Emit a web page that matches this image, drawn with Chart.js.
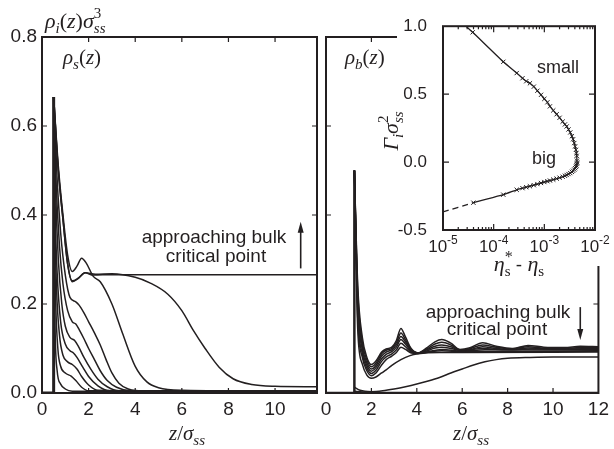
<!DOCTYPE html>
<html>
<head>
<meta charset="utf-8">
<script src="https://cdn.jsdelivr.net/npm/chart.js@4.4.1/dist/chart.umd.min.js"></script>
<style>
html,body{margin:0;padding:0;background:#fff;}
#lienzo{position:relative;width:614px;height:449px;}
canvas{position:absolute;left:0;top:0;}
</style>
</head>
<body>
<div id="lienzo">
<canvas id="panel-s" width="614" height="449"></canvas>
<canvas id="panel-b" width="614" height="449"></canvas>
<canvas id="recuadro" width="614" height="449"></canvas>
</div>
<script>
// perfiles de densidad, pares [z/sigma_ss, rho*sigma^3]
var paredS = [[0,0],[0.5,0],[0.5,0.665]];
var rsA = [[0.5,0.665],[0.7,0.5],[0.9,0.39],[1.1,0.29],[1.3,0.25],[1.55,0.257],[1.85,0.27],[2.2,0.265],[3,0.266],[5,0.266],[8,0.266],[11.8,0.266]];
var rsB = [[0.5,0.665],[0.7,0.51],[0.9,0.4],[1.1,0.31],[1.3,0.273],[1.5,0.285],[1.7,0.303],[1.9,0.292],[2.2,0.262],[2.5,0.25],[3,0.2],[3.45,0.135],[4,0.06],[4.5,0.025],[5,0.012],[6,0.006],[8,0.005],[11.8,0.005]];
var rsC = [[0.5,0.665],[0.7,0.5],[0.9,0.39],[1.1,0.29],[1.3,0.252],[1.55,0.258],[1.85,0.27],[2.3,0.267],[3,0.268],[4,0.26],[4.65,0.247],[5.4,0.222],[6,0.185],[6.5,0.14],[7,0.1],[7.6,0.058],[8.2,0.032],[9,0.019],[10,0.015],[11.8,0.014]];
var rsD = [[0.5,0.665],[0.65,0.48],[0.8,0.36],[1.0,0.265],[1.2,0.215],[1.45,0.205],[1.6,0.197],[1.8,0.18],[2.0,0.16],[2.25,0.135],[2.5,0.108],[2.75,0.075],[3.0,0.045],[3.3,0.022],[3.7,0.009],[4.5,0.004],[11.8,0.003]];
var rsE = [[0.5,0.665],[0.6,0.48],[0.75,0.33],[0.9,0.245],[1.1,0.185],[1.3,0.16],[1.45,0.155],[1.6,0.142],[1.8,0.122],[2.0,0.1],[2.25,0.075],[2.5,0.05],[2.8,0.028],[3.2,0.013],[3.8,0.005],[11.8,0.003]];
var rsF = [[0.5,0.665],[0.58,0.46],[0.7,0.3],[0.85,0.2],[1.0,0.15],[1.2,0.125],[1.4,0.118],[1.55,0.106],[1.8,0.08],[2.1,0.053],[2.4,0.031],[2.8,0.014],[3.3,0.005],[11.8,0.003]];
var rsG = [[0.5,0.665],[0.56,0.42],[0.65,0.27],[0.8,0.16],[1.0,0.11],[1.2,0.095],[1.35,0.09],[1.5,0.08],[1.75,0.058],[2.0,0.037],[2.4,0.016],[2.9,0.005],[11.8,0.003]];
var rsH = [[0.5,0.665],[0.55,0.4],[0.62,0.24],[0.75,0.13],[0.9,0.085],[1.1,0.07],[1.3,0.064],[1.5,0.054],[1.7,0.037],[2.0,0.018],[2.4,0.006],[11.8,0.003]];
var rsI = [[0.5,0.665],[0.53,0.4],[0.58,0.22],[0.68,0.1],[0.8,0.06],[1.0,0.045],[1.25,0.038],[1.45,0.028],[1.7,0.013],[2.0,0.005],[11.8,0.003]];
var rsJ = [[0.5,0.665],[0.52,0.35],[0.56,0.15],[0.65,0.05],[0.8,0.02],[1.0,0.009],[1.3,0.004],[11.8,0.003]];

var paredB = [[0,0],[1.25,0],[1.25,0.5]];
var rb1 = [[1.25,0.5],[1.4,0.24],[1.6,0.125],[1.8,0.08],[2.0,0.064],[2.2,0.072],[2.45,0.092],[2.65,0.099],[2.9,0.103],[3.1,0.118],[3.3,0.145],[3.5,0.126],[3.75,0.1],[4.05,0.09],[4.4,0.1],[4.8,0.115],[5.1,0.12],[5.5,0.112],[5.9,0.098],[6.3,0.101],[6.9,0.113],[7.5,0.105],[8.2,0.1],[8.9,0.107],[9.6,0.103],[10.5,0.102],[11.2,0.105],[12,0.104]];
var rb2 = [[1.25,0.5],[1.4,0.225],[1.6,0.115],[1.8,0.074],[2.0,0.059],[2.2,0.067],[2.45,0.088],[2.65,0.096],[2.9,0.1],[3.1,0.113],[3.3,0.135],[3.5,0.12],[3.75,0.098],[4.05,0.09],[4.4,0.098],[4.8,0.11],[5.1,0.114],[5.5,0.108],[5.9,0.097],[6.3,0.099],[6.9,0.108],[7.5,0.103],[8.2,0.099],[8.9,0.104],[9.6,0.101],[10.5,0.1],[11.2,0.102],[12,0.102]];
var rb3 = [[1.25,0.5],[1.4,0.21],[1.6,0.105],[1.8,0.068],[2.0,0.054],[2.2,0.062],[2.45,0.083],[2.65,0.092],[2.9,0.097],[3.1,0.108],[3.3,0.127],[3.5,0.115],[3.75,0.096],[4.05,0.09],[4.4,0.096],[4.8,0.105],[5.1,0.108],[5.5,0.104],[5.9,0.096],[6.3,0.097],[6.9,0.104],[7.5,0.1],[8.2,0.098],[8.9,0.101],[10,0.099],[12,0.1]];
var rb4 = [[1.25,0.5],[1.4,0.195],[1.6,0.097],[1.8,0.062],[2.0,0.049],[2.2,0.057],[2.45,0.077],[2.65,0.087],[2.9,0.093],[3.1,0.103],[3.3,0.12],[3.5,0.11],[3.75,0.094],[4.05,0.09],[4.4,0.094],[4.8,0.101],[5.1,0.103],[5.5,0.1],[6,0.095],[6.9,0.1],[8,0.097],[9,0.099],[12,0.098]];
var rb5 = [[1.25,0.5],[1.4,0.18],[1.6,0.088],[1.8,0.056],[2.0,0.044],[2.2,0.051],[2.45,0.071],[2.65,0.081],[2.9,0.088],[3.1,0.097],[3.3,0.112],[3.5,0.104],[3.75,0.092],[4.05,0.089],[4.4,0.092],[5.1,0.098],[6,0.094],[7,0.097],[12,0.096]];
var rb6 = [[1.25,0.5],[1.4,0.165],[1.6,0.08],[1.8,0.05],[2.0,0.039],[2.2,0.045],[2.45,0.063],[2.65,0.075],[2.9,0.083],[3.1,0.091],[3.3,0.103],[3.5,0.098],[3.75,0.09],[4.05,0.089],[4.4,0.091],[5.1,0.095],[6,0.093],[12,0.094]];
var rb7 = [[1.25,0.5],[1.4,0.14],[1.6,0.065],[1.8,0.04],[2.0,0.033],[2.2,0.036],[2.45,0.045],[2.65,0.052],[2.9,0.062],[3.3,0.075],[3.7,0.084],[4.05,0.088],[5,0.091],[6,0.091],[12,0.092]];
var rbV = [[1.25,0.013],[1.5,0.006],[2.0,0.003],[2.5,0.005],[3.0,0.009],[3.5,0.014],[4.0,0.02],[4.5,0.027],[5.0,0.035],[5.5,0.045],[6.0,0.054],[6.5,0.063],[7.0,0.07],[7.5,0.075],[8.0,0.078],[9.0,0.08],[10,0.081],[12,0.081]];
var rbW = [[1.25,0.004],[2,0.001],[12,0.001]];

// recuadro: adsorcion frente a eta*_s - eta_s
var etaPeq = [2.85e-5,3.86e-5,1.55e-4,2.85e-4,3.7e-4,4.4e-4,5.2e-4,6.2e-4,7.3e-4,8.6e-4,1.0e-3,1.15e-3,1.29e-3,1.5e-3,1.75e-3,2.0e-3,2.3e-3,2.55e-3,2.76e-3,3.0e-3,3.25e-3,3.5e-3,3.7e-3,3.9e-3,4.05e-3,4.2e-3,4.3e-3,4.35e-3,4.4e-3];
var gamPeq = [1.0,0.955,0.738,0.655,0.617,0.595,0.58,0.555,0.525,0.495,0.465,0.44,0.41,0.38,0.352,0.326,0.298,0.277,0.262,0.24,0.218,0.19,0.168,0.14,0.115,0.09,0.065,0.046,0.01];
var etaGde = [1e-5,3.98e-5,1.55e-4,2.85e-4,3.7e-4,4.4e-4,5.2e-4,6.2e-4,7.3e-4,8.6e-4,1.0e-3,1.15e-3,1.29e-3,1.5e-3,1.75e-3,2.0e-3,2.3e-3,2.55e-3,2.76e-3,3.0e-3,3.25e-3,3.5e-3,3.7e-3,3.9e-3,4.05e-3,4.2e-3,4.3e-3,4.4e-3,4.45e-3];
var gamGde = [-0.367,-0.299,-0.24,-0.204,-0.192,-0.185,-0.178,-0.17,-0.162,-0.154,-0.147,-0.141,-0.136,-0.129,-0.122,-0.115,-0.108,-0.101,-0.095,-0.088,-0.081,-0.072,-0.064,-0.055,-0.045,-0.035,-0.025,-0.012,-0.003];

var ticksZs = [0,2,4,6,8,10];
var ticksZb = [0,2,4,6,8,10,12];
var ticksRho = [0,0.2,0.4,0.6,0.8];
var ticksGam = [-0.5,0,0.5,1];
var decadas = [1e-5,1e-4,1e-3,1e-2];

var tinta = '#231f20';
var sans = '"Liberation Sans", Arial, Helvetica, sans-serif';
var serif = '"Liberation Serif", "Times New Roman", serif';
var it = function(n){ return 'italic ' + n + 'px ' + serif; };
var rm = function(n){ return n + 'px ' + serif; };

function curva(datos, extra) {
  var d = {data: datos, borderColor: tinta, borderWidth: 1.5, pointRadius: 0, fill: false,
           cubicInterpolationMode: 'monotone'};
  for (var k in extra) d[k] = extra[k];
  return d;
}
function pareja(xs, ys) { return xs.map(function(x, i){ return [x, ys[i]]; }); }

// texto con sub/superindices: partes = [texto, fuente, dy, avanza]
function pinta(ctx, x, y, partes, alin) {
  var total = 0;
  partes.forEach(function(p){ ctx.font = p[1]; if (p[3] !== false) total += ctx.measureText(p[0]).width; });
  var cx = alin === 'center' ? x - total / 2 : x;
  partes.forEach(function(p){
    ctx.font = p[1];
    ctx.fillText(p[0], cx, y + (p[2] || 0));
    if (p[3] !== false) cx += ctx.measureText(p[0]).width;
  });
}

var marco = {
  id: 'marco',
  afterDraw: function(chart) {
    var o = chart.options.plugins.marco; if (!o) return;
    var ctx = chart.ctx, a = chart.chartArea, sx = chart.scales.x, sy = chart.scales.y;
    ctx.save();
    ctx.strokeStyle = tinta;
    ctx.lineWidth = 1.2;
    ctx.beginPath();
    (o.xt || []).forEach(function(v){
      var p = sx.getPixelForValue(v);
      ctx.moveTo(p, a.bottom); ctx.lineTo(p, a.bottom - o.largo);
      ctx.moveTo(p, a.top); ctx.lineTo(p, a.top + o.largo);
    });
    (o.xm || []).forEach(function(v){
      var p = sx.getPixelForValue(v);
      ctx.moveTo(p, a.bottom); ctx.lineTo(p, a.bottom - o.largo / 2);
      ctx.moveTo(p, a.top); ctx.lineTo(p, a.top + o.largo / 2);
    });
    (o.yt || []).forEach(function(v){
      var p = sy.getPixelForValue(v);
      ctx.moveTo(a.left, p); ctx.lineTo(a.left + o.largo, p);
      ctx.moveTo(a.right, p); ctx.lineTo(a.right - o.largo, p);
    });
    ctx.stroke();
    ctx.lineWidth = 2;
    ctx.strokeRect(a.left, a.top, a.right - a.left, a.bottom - a.top);
    ctx.restore();
  }
};

var textos = {
  id: 'textos',
  afterDraw: function(chart) {
    var o = chart.options.plugins.textos; if (!o) return;
    var ctx = chart.ctx;
    ctx.save();
    ctx.fillStyle = tinta; ctx.strokeStyle = tinta;
    ctx.textBaseline = 'alphabetic'; ctx.textAlign = 'left';
    (o.items || []).forEach(function(t){
      if (t.rot) {
        ctx.save(); ctx.translate(t.x, t.y); ctx.rotate(-Math.PI / 2);
        pinta(ctx, 0, 0, t.partes, t.alin); ctx.restore();
      } else pinta(ctx, t.x, t.y, t.partes, t.alin);
    });
    (o.flechas || []).forEach(function(f){
      var px = chart.scales.x.getPixelForValue(f.x);
      var y0 = chart.scales.y.getPixelForValue(f.y0), y1 = chart.scales.y.getPixelForValue(f.y1);
      var s = y1 < y0 ? 1 : -1;
      ctx.lineWidth = 1.6;
      ctx.beginPath(); ctx.moveTo(px, y0); ctx.lineTo(px, y1 + s * 6); ctx.stroke();
      ctx.beginPath(); ctx.moveTo(px, y1); ctx.lineTo(px - 3, y1 + s * 11); ctx.lineTo(px + 3, y1 + s * 11); ctx.closePath(); ctx.fill();
    });
    if (o.decadas) {
      var sx = chart.scales.x;
      o.decadas.forEach(function(v){
        var e = String(Math.round(Math.log10(v)));
        pinta(ctx, sx.getPixelForValue(v), 252, [['10', '17px ' + sans], [e, '12px ' + sans, -8]], 'center');
      });
    }
    ctx.restore();
  }
};

var tapa = {
  id: 'tapa',
  beforeDraw: function(chart) {
    var ctx = chart.ctx;
    ctx.save(); ctx.fillStyle = '#fff'; ctx.fillRect(397, 0, 217, 266); ctx.restore();
  }
};

function ejeX(min, max) {
  return {type: 'linear', min: min, max: max,
    grid: {display: false, drawTicks: false}, border: {display: false},
    ticks: {stepSize: 2, includeBounds: false, autoSkip: false, maxRotation: 0, padding: 5, color: tinta, font: {family: sans, size: 19}},
    afterFit: function(s){ s.height = 56; }};
}
function ejeRho(mostrar) {
  var e = {type: 'linear', min: 0, max: 0.8, display: mostrar,
    grid: {display: false, drawTicks: false}, border: {display: false},
    ticks: {stepSize: 0.2, padding: 5, color: tinta, font: {family: sans, size: 19},
      callback: function(v){ return v.toFixed(1); }}};
  if (mostrar) e.afterFit = function(s){ s.width = 42; };
  return e;
}
var base = {responsive: false, animation: false, devicePixelRatio: 1, events: []};

var zTitulo = function(x){
  return {x: x, y: 440, alin: 'center', partes: [['z', it(21)], ['/', rm(21)], ['σ', it(21)], ['ss', it(15), 5]]};
};

new Chart(document.getElementById('panel-s'), {
  type: 'line',
  data: {datasets: [
    curva(paredS, {borderWidth: 3, cubicInterpolationMode: 'default', tension: 0}),
    curva(rsA), curva(rsB), curva(rsC), curva(rsD), curva(rsE),
    curva(rsF), curva(rsG), curva(rsH), curva(rsI), curva(rsJ)
  ]},
  options: Object.assign({}, base, {
    layout: {padding: {left: 0, top: 37, right: 297, bottom: 0}},
    scales: {x: ejeX(0, 11.8), y: ejeRho(true)},
    plugins: {legend: {display: false}, tooltip: {enabled: false},
      marco: {xt: ticksZs.slice(1), yt: ticksRho.slice(1, 4), largo: 5},
      textos: {
        items: [
          {x: 45, y: 28, partes: [['ρ', it(22)], ['i', it(15), 5], ['(', rm(22)], ['z', it(22)], [')', rm(22)], ['σ', it(22)], ['3', rm(15), -10, false], ['ss', it(15), 5]]},
          {x: 63, y: 64, partes: [['ρ', it(21)], ['s', it(15), 5], ['(', rm(21)], ['z', it(21)], [')', rm(21)]]},
          {x: 214, y: 243, alin: 'center', partes: [['approaching bulk', '19px ' + sans]]},
          {x: 216, y: 262, alin: 'center', partes: [['critical point', '19px ' + sans]]},
          zTitulo(187)
        ],
        flechas: [{x: 11.1, y0: 0.28, y1: 0.385}]
      }
    }
  }),
  plugins: [marco, textos]
});

new Chart(document.getElementById('panel-b'), {
  type: 'line',
  data: {datasets: [
    curva(paredB, {borderWidth: 2.5, cubicInterpolationMode: 'default', tension: 0}),
    curva(rb1), curva(rb2), curva(rb3), curva(rb4), curva(rb5), curva(rb6), curva(rb7),
    curva(rbV), curva(rbW)
  ]},
  options: Object.assign({}, base, {
    layout: {padding: {left: 326, top: 37, right: 11, bottom: 0}},
    scales: {x: ejeX(0, 12), y: ejeRho(false)},
    plugins: {legend: {display: false}, tooltip: {enabled: false},
      marco: {xt: ticksZb.slice(1, 6), yt: ticksRho.slice(1, 4), largo: 5},
      textos: {
        items: [
          {x: 345, y: 64, partes: [['ρ', it(21)], ['b', it(15), 5], ['(', rm(21)], ['z', it(21)], [')', rm(21)]]},
          {x: 498, y: 318, alin: 'center', partes: [['approaching bulk', '19px ' + sans]]},
          {x: 497, y: 335, alin: 'center', partes: [['critical point', '19px ' + sans]]},
          zTitulo(471)
        ],
        flechas: [{x: 11.2, y0: 0.193, y1: 0.119}]
      }
    }
  }),
  plugins: [marco, textos]
});

var menores = [];
[1e-5, 1e-4, 1e-3].forEach(function(d){ for (var k = 2; k <= 9; k++) menores.push(k * d); });

new Chart(document.getElementById('recuadro'), {
  type: 'line',
  data: {datasets: [
    curva(pareja(etaPeq, gamPeq), {borderWidth: 1.3, cubicInterpolationMode: 'default', tension: 0.2,
      pointStyle: 'crossRot', pointRadius: etaPeq.map(function(v, i){ return i === 0 ? 0 : 3; }), pointBorderWidth: 1, pointBorderColor: tinta}),
    curva(pareja(etaGde, gamGde), {borderWidth: 1.3, cubicInterpolationMode: 'default', tension: 0.2,
      pointStyle: 'crossRot', pointRadius: etaGde.map(function(v, i){ return i === 0 ? 0 : 3; }), pointBorderWidth: 1, pointBorderColor: tinta,
      segment: {borderDash: function(c){ return c.p0DataIndex === 0 ? [6, 4] : undefined; }}})
  ]},
  options: Object.assign({}, base, {
    layout: {padding: {left: 383, top: 24, right: 19, bottom: 219}},
    scales: {
      x: {type: 'logarithmic', min: 1e-5, max: 1e-2, display: false},
      y: {type: 'linear', min: -0.5, max: 1.0,
        grid: {display: false, drawTicks: false}, border: {display: false},
        ticks: {stepSize: 0.5, padding: 16, color: tinta, font: {family: sans, size: 17},
          callback: function(v){ return v.toFixed(1); }},
        afterFit: function(s){ s.width = 60; }}
    },
    plugins: {legend: {display: false}, tooltip: {enabled: false},
      marco: {xt: decadas.slice(1, 3), xm: menores, yt: ticksGam.slice(1, 3), largo: 6},
      textos: {
        items: [
          {x: 537, y: 73, partes: [['small', '18px ' + sans]]},
          {x: 532, y: 164, partes: [['big', '18px ' + sans]]},
          {x: 519, y: 271, alin: 'center', partes: [['η', it(22)], ['*', rm(16), -9, false], ['s', rm(15), 5], [' - ', '19px ' + sans], ['η', it(22)], ['s', rm(15), 5]]},
          {x: 398, y: 131, rot: true, alin: 'center', partes: [['Γ', it(22)], ['i', it(15), 5], ['σ', it(22)], ['2', rm(15), -10, false], ['ss', it(15), 5]]}
        ],
        decadas: decadas
      }
    }
  }),
  plugins: [tapa, marco, textos]
});
</script>
</body>
</html>
